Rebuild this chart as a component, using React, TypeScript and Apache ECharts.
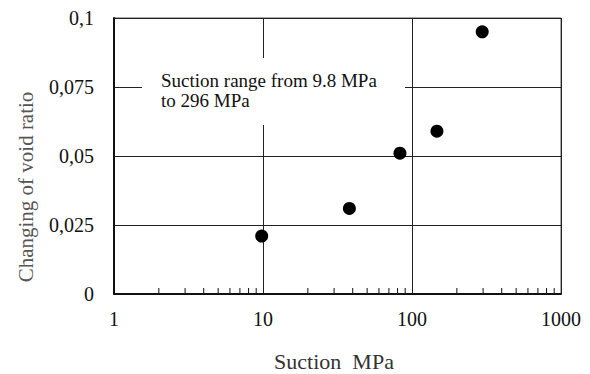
import React, { useEffect, useRef } from "react";
import * as echarts from "echarts";

const suction = [9.8, 38, 83, 147, 296];
const voidChange = [0.021, 0.031, 0.051, 0.059, 0.095];
const minorTicks = [2, 3, 4, 5, 6, 7, 8, 9, 20, 30, 40, 50, 60, 70, 80, 90, 200, 300, 400, 500, 600, 700, 800, 900];
const xTitle = "Suction  MPa";
const yTitle = "Changing of void ratio";
const noteLines = ["Suction range from 9.8 MPa", "to 296 MPa"];

const FONT = "Liberation Serif, Times New Roman, serif";

export default function App() {
  const ref = useRef<HTMLDivElement>(null);
  useEffect(() => {
    if (!ref.current) return;
    const chart = echarts.init(ref.current, null, { renderer: "svg" });
    chart.setOption({
      animation: false,
      backgroundColor: "#fff",
      grid: {
        left: 114,
        top: 18,
        right: 29,
        bottom: 80,
        show: true,
        borderColor: "#555",
        borderWidth: 1,
      },
      xAxis: {
        type: "log",
        logBase: 10,
        min: 1,
        max: 1000,
        axisLine: { show: true, lineStyle: { color: "#111", width: 2 } },
        axisTick: { show: false },
        splitLine: { show: true, lineStyle: { color: "#222", width: 1 } },
        axisLabel: {
          fontFamily: FONT,
          fontSize: 20,
          color: "#111",
          margin: 15,
          formatter: (v: number) => String(Math.round(v)),
        },
      },
      yAxis: {
        type: "value",
        min: 0,
        max: 0.1,
        interval: 0.025,
        axisLine: { show: true, lineStyle: { color: "#111", width: 2 } },
        axisTick: { show: false },
        splitLine: { show: true, lineStyle: { color: "#222", width: 1 } },
        axisLabel: {
          fontFamily: FONT,
          fontSize: 20,
          color: "#111",
          margin: 20,
          formatter: (v: number) => String(Number(v.toFixed(3))).replace(".", ","),
        },
      },
      series: [
        {
          type: "custom",
          data: minorTicks.map((v) => [v, 0]),
          silent: true,
          z: 3,
          renderItem: (_params: any, api: any) => {
            const p = api.coord([api.value(0), 0]);
            return {
              type: "line",
              shape: { x1: p[0], y1: p[1], x2: p[0], y2: p[1] - 6 },
              style: { stroke: "#111", lineWidth: 1 },
            };
          },
        },
        {
          type: "scatter",
          data: suction.map((s, i) => [s, voidChange[i]]),
          symbol: "circle",
          symbolSize: 13,
          itemStyle: { color: "#000", opacity: 1 },
          z: 5,
        },
      ],
      graphic: [
        {
          type: "rect",
          z: 100,
          shape: { x: 142, y: 58, width: 263, height: 67 },
          style: { fill: "#fff" },
        },
        {
          type: "text",
          z: 101,
          x: 161,
          y: 70,
          style: {
            text: noteLines.join("\n"),
            font: `19px ${FONT}`,
            lineHeight: 20,
            fill: "#111",
          },
        },
        {
          type: "text",
          z: 101,
          x: 334,
          y: 361,
          style: {
            text: xTitle,
            font: `22px ${FONT}`,
            fill: "#333",
            align: "center",
            verticalAlign: "middle",
          },
        },
        {
          type: "text",
          z: 101,
          x: 26,
          y: 187,
          rotation: Math.PI / 2,
          style: {
            text: yTitle,
            font: `21px ${FONT}`,
            fill: "#555",
            align: "center",
            verticalAlign: "middle",
          },
        },
      ],
    });
    return () => chart.dispose();
  }, []);
  return <div ref={ref} style={{ width: 590, height: 374, position: "absolute", left: 0, top: 0 }} />;
}
